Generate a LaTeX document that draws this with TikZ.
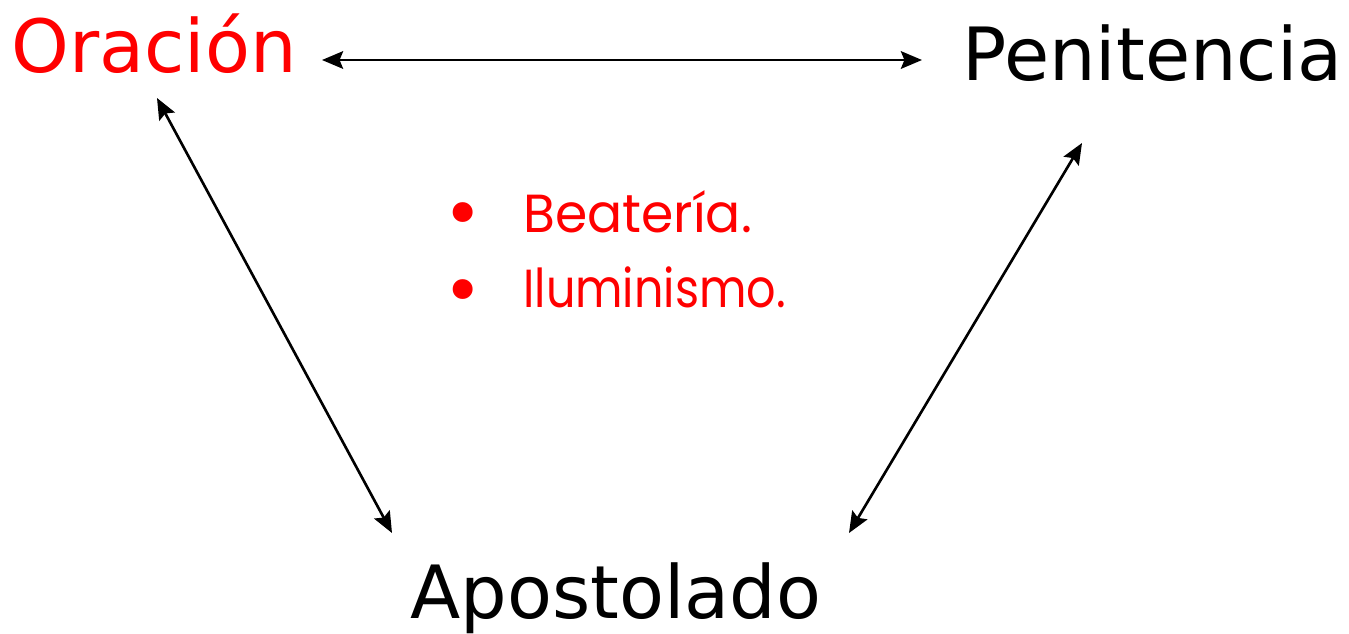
\documentclass[tikz,border=0pt]{standalone}
\usepackage{fontspec}
\setmainfont{DejaVu Sans}
\newfontfamily\listfont{Poppins}
\usetikzlibrary{arrows.meta}

\tikzset{
  word/.style={anchor=base west, inner sep=0pt, font=\fontsize{41.8}{48}\selectfont},
  entry/.style={anchor=base west, inner sep=0pt, text=red, font=\listfont\fontsize{30.5}{36}\selectfont},
  dot/.style={anchor=base, inner sep=0pt, text=red, font=\listfont\fontsize{46}{50}\selectfont},
  link/.style={{Stealth[length=12pt,width=10pt,inset=2pt]}-{Stealth[length=12pt,width=10pt,inset=2pt]}, line width=1.5pt}
}

\begin{document}
\begin{tikzpicture}[x=0.02cm,y=-0.02cm]

\useasboundingbox (0,0) rectangle (1349,633);

% The three words
\node[word, text=red] (orac) at (11,72) {Oración};
\node[word] (penit) at (962,80) {Penitencia};
\node[word] (apos) at (410,618) {Apostolado};

% Red list in the middle
\node[dot] (d1) at (463,239) {•};
\node[dot] (d2) at (463,316) {•};
\node[entry] (beat) at (523,232) {\scalebox{0.97}[1]{Beatería.}};
\node[entry] (ilum) at (523,307) {\scalebox{0.86}[1]{Iluminismo.}};

% Arrow ends
\coordinate (oR) at (322,60);
\coordinate (pL) at (922,60);
\coordinate (oB) at (157,98);
\coordinate (aL) at (392,533);
\coordinate (pB) at (1082,143);
\coordinate (aR) at (849,533);

\draw[link] (oR) -- (pL);
\draw[link] (oB) -- (aL);
\draw[link] (pB) -- (aR);

\end{tikzpicture}
\end{document}
